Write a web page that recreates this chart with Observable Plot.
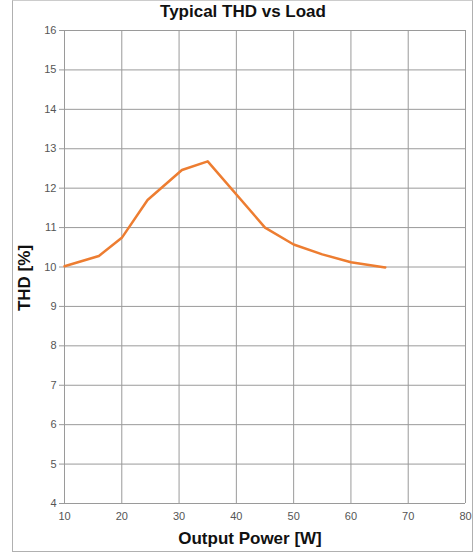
<!DOCTYPE html>
<html>
<head>
<meta charset="utf-8">
<script src="https://cdn.jsdelivr.net/npm/d3@7"></script>
<script src="https://cdn.jsdelivr.net/npm/@observablehq/plot@0.6"></script>
<style>
  body { margin: 0; background: #fff; font-family: "Liberation Sans", Arial, sans-serif; }
  #wrap { position: relative; width: 476px; height: 553px; }
  #frame { position: absolute; left: 12px; top: 0px; width: 461px; height: 552px; border: 1px solid #b0b0b0; border-top-color:#ccc; box-sizing: border-box; pointer-events: none; }
  #title { position: absolute; left: 0; width: 486px; top: 2px; text-align: center; font-weight: bold; font-size: 17px; color: #111; }
  #chart { position: absolute; left: 0; top: 0; }
</style>
</head>
<body>
<div id="wrap">
  <div id="chart"></div>
  <div id="frame"></div>
  <div id="title">Typical THD vs Load</div>
</div>
<script>
const outputPower = [10, 16, 20, 24.5, 30.5, 35, 45, 50, 55, 60, 66];
const thd = [10.02, 10.28, 10.74, 11.70, 12.46, 12.68, 11.00, 10.57, 10.32, 10.12, 9.99];
const xTicks = [10, 20, 30, 40, 50, 60, 70, 80];
const yTicks = [4, 5, 6, 7, 8, 9, 10, 11, 12, 13, 14, 15, 16];
const xLabel = "Output Power [W]";
const yLabel = "THD [%]";

const data = outputPower.map((x, i) => ({x, y: thd[i]}));

const chart = Plot.plot({
  width: 476,
  height: 553,
  marginTop: 30,
  marginBottom: 50,
  marginLeft: 64,
  marginRight: 11,
  style: {fontFamily: "Liberation Sans, Arial, sans-serif", fontSize: "11px", color: "#444", background: "transparent"},
  x: {domain: [10, 80], ticks: xTicks},
  y: {domain: [4, 16], ticks: yTicks},
  marks: [
    Plot.gridX(xTicks, {stroke: "#9a9a9a", strokeOpacity: 1}),
    Plot.gridY(yTicks, {stroke: "#9a9a9a", strokeOpacity: 1}),
    Plot.axisX({ticks: xTicks, tickSize: 0, tickPadding: 9, label: null, fill: "#555"}),
    Plot.axisY({ticks: yTicks, tickSize: 5, tickPadding: 3, stroke: "#9a9a9a", label: null, fill: "#555"}),
    Plot.ruleX([10], {stroke: "#9a9a9a"}),
    Plot.ruleY([4], {stroke: "#9a9a9a"}),
    Plot.line(data, {x: "x", y: "y", stroke: "#ED7D31", strokeWidth: 2.5})
  ]
});
document.getElementById("chart").appendChild(chart);

const svg = d3.select(chart);
svg.append("text")
  .attr("x", 250).attr("y", 544)
  .attr("text-anchor", "middle")
  .style("font-size", "17px").style("font-weight", "bold").attr("fill", "#111")
  .text(xLabel);
svg.append("text")
  .attr("transform", "translate(30,278) rotate(-90)")
  .attr("text-anchor", "middle")
  .style("font-size", "17px").style("font-weight", "bold").attr("fill", "#111")
  .text(yLabel);
</script>
</body>
</html>
